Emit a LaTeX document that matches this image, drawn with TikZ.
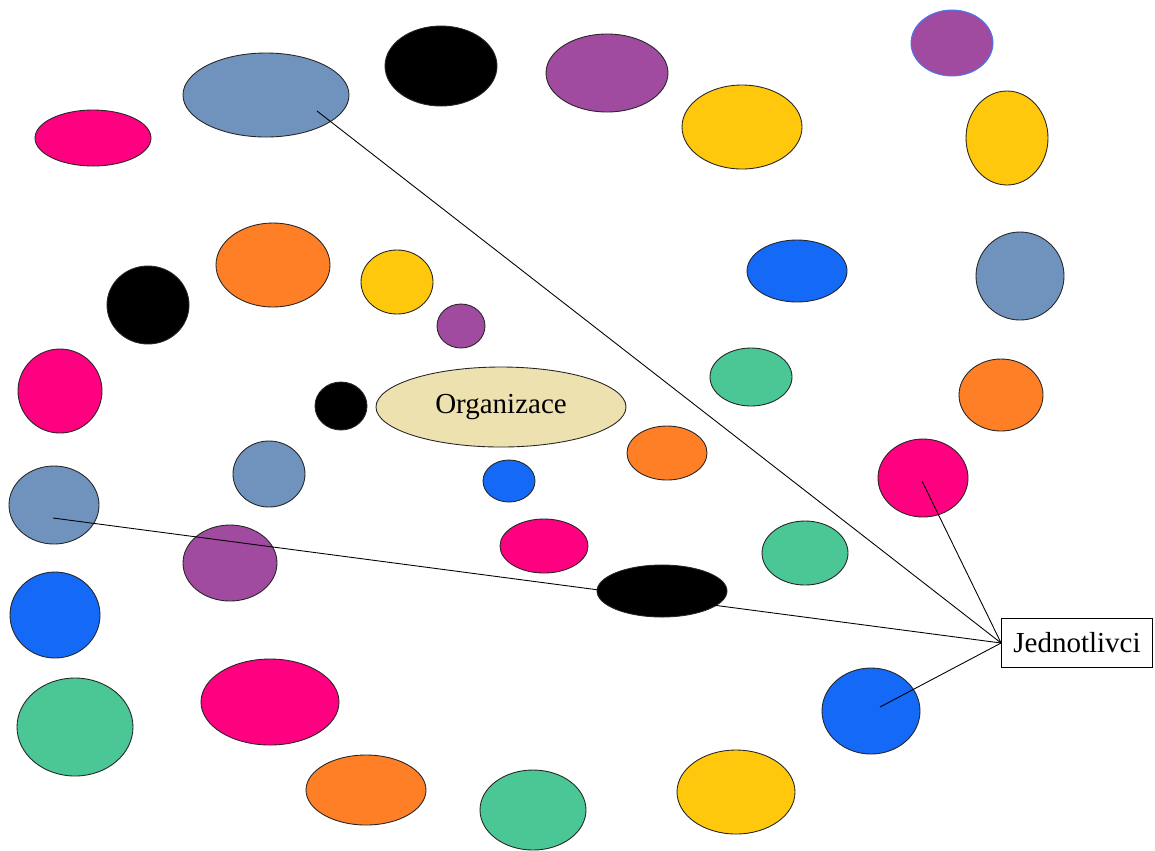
\documentclass[tikz,border=0pt]{standalone}
\usepackage{fontspec}
\setmainfont{Liberation Serif}
\usetikzlibrary{shapes.geometric, positioning}

\definecolor{pinkc}{HTML}{FF0080}
\definecolor{steelc}{HTML}{7093BE}
\definecolor{purplec}{HTML}{A04BA0}
\definecolor{yellowc}{HTML}{FFC80D}
\definecolor{orangec}{HTML}{FF7F27}
\definecolor{bluec}{HTML}{1469F6}
\definecolor{greenc}{HTML}{4BC695}
\definecolor{beigec}{HTML}{EEE1B0}
\definecolor{rimc}{HTML}{3C7CF8}

\tikzset{
	blob/.style n args={3}{ellipse, draw=black!85, line width=0.5pt, fill=#1,
		minimum width=#2*0.02cm, minimum height=#3*0.02cm, inner sep=0pt},
	label box/.style={draw, line width=0.5pt, fill=white, minimum width=151*0.02cm,
		minimum height=49*0.02cm, inner sep=0pt, font=\fontsize{16.5}{20}\selectfont},
	link/.style={line width=0.5pt}
}

\begin{document}
\begin{tikzpicture}[x=0.02cm, y=-0.02cm]
			\useasboundingbox (0,0) rectangle (1155,850);
			
			% outer ring
			\node[blob={pinkc}{116}{56}] (pk1) at (93,138) {};
			\node[blob={steelc}{166}{84}] (sb1) at (266,95) {};
			\node[blob={black}{112}{80}] (bk1) at (441,66) {};
			\node[blob={purplec}{122}{78}] (pu1) at (607,73) {};
			\node[blob={yellowc}{120}{84}] (ye1) at (742,127) {};
			\node[blob={purplec}{82}{66}, draw=rimc] (pu2) at (952,43) {};
			\node[blob={yellowc}{82}{94}] (ye2) at (1007,138) {};
			\node[blob={steelc}{88}{88}] (sb2) at (1020,276) {};
			\node[blob={orangec}{84}{72}] (or1) at (1001,395) {};
			\node[blob={pinkc}{90}{78}] (pk2) at (923,478) {};
			\node[blob={bluec}{98}{86}] (bl1) at (871,711) {};
			\node[blob={yellowc}{118}{84}] (ye3) at (736,792) {};
			\node[blob={greenc}{106}{80}] (gr1) at (533,810) {};
			\node[blob={orangec}{120}{70}] (or2) at (366,790) {};
			\node[blob={pinkc}{138}{86}] (pk3) at (270,702) {};
			\node[blob={greenc}{116}{98}] (gr2) at (75,727) {};
			\node[blob={bluec}{90}{86}] (bl2) at (55,615) {};
			\node[blob={steelc}{90}{78}] (sb3) at (54,505) {};
			\node[blob={pinkc}{84}{84}] (pk4) at (60,391) {};
			\node[blob={black}{82}{78}] (bk2) at (148,305) {};
			
			% inner ring
			\node[blob={orangec}{114}{84}] (or3) at (273,265) {};
			\node[blob={yellowc}{72}{64}] (ye4) at (397,282) {};
			\node[blob={purplec}{48}{44}] (pu3) at (461,326) {};
			\node[blob={black}{52}{48}] (bk3) at (341,406) {};
			\node[blob={steelc}{72}{66}] (sb4) at (269,474) {};
			\node[blob={purplec}{94}{76}] (pu4) at (230,563) {};
			\node[blob={bluec}{52}{42}] (bl3) at (509,481) {};
			\node[blob={pinkc}{88}{54}] (pk5) at (544,546) {};
			\node[blob={black}{130}{52}] (bk4) at (662,591) {};
			\node[blob={orangec}{80}{54}] (or4) at (667,453) {};
			\node[blob={greenc}{82}{58}] (gr3) at (751,377) {};
			\node[blob={bluec}{100}{62}] (bl4) at (797,271) {};
			\node[blob={greenc}{86}{64}] (gr4) at (805,553) {};
			
			\node[blob={beigec}{250}{80}, font=\fontsize{16.5}{20}\selectfont] (org) at (501,407) {Organizace};
			
			\node[label box] (ind) at (1077,643) {Jednotlivci};
			
			\coordinate (a1) at (317,111);
			\coordinate (a2) at (53,518);
			\coordinate (a3) at (922,481);
			\coordinate (a4) at (880,707);
			
			\draw[link] (a1) -- (ind.west);
			\draw[link] (a2) -- (ind.west);
			\draw[link] (a3) -- (ind.west);
			\draw[link] (a4) -- (ind.west);
\end{tikzpicture}
\end{document}
